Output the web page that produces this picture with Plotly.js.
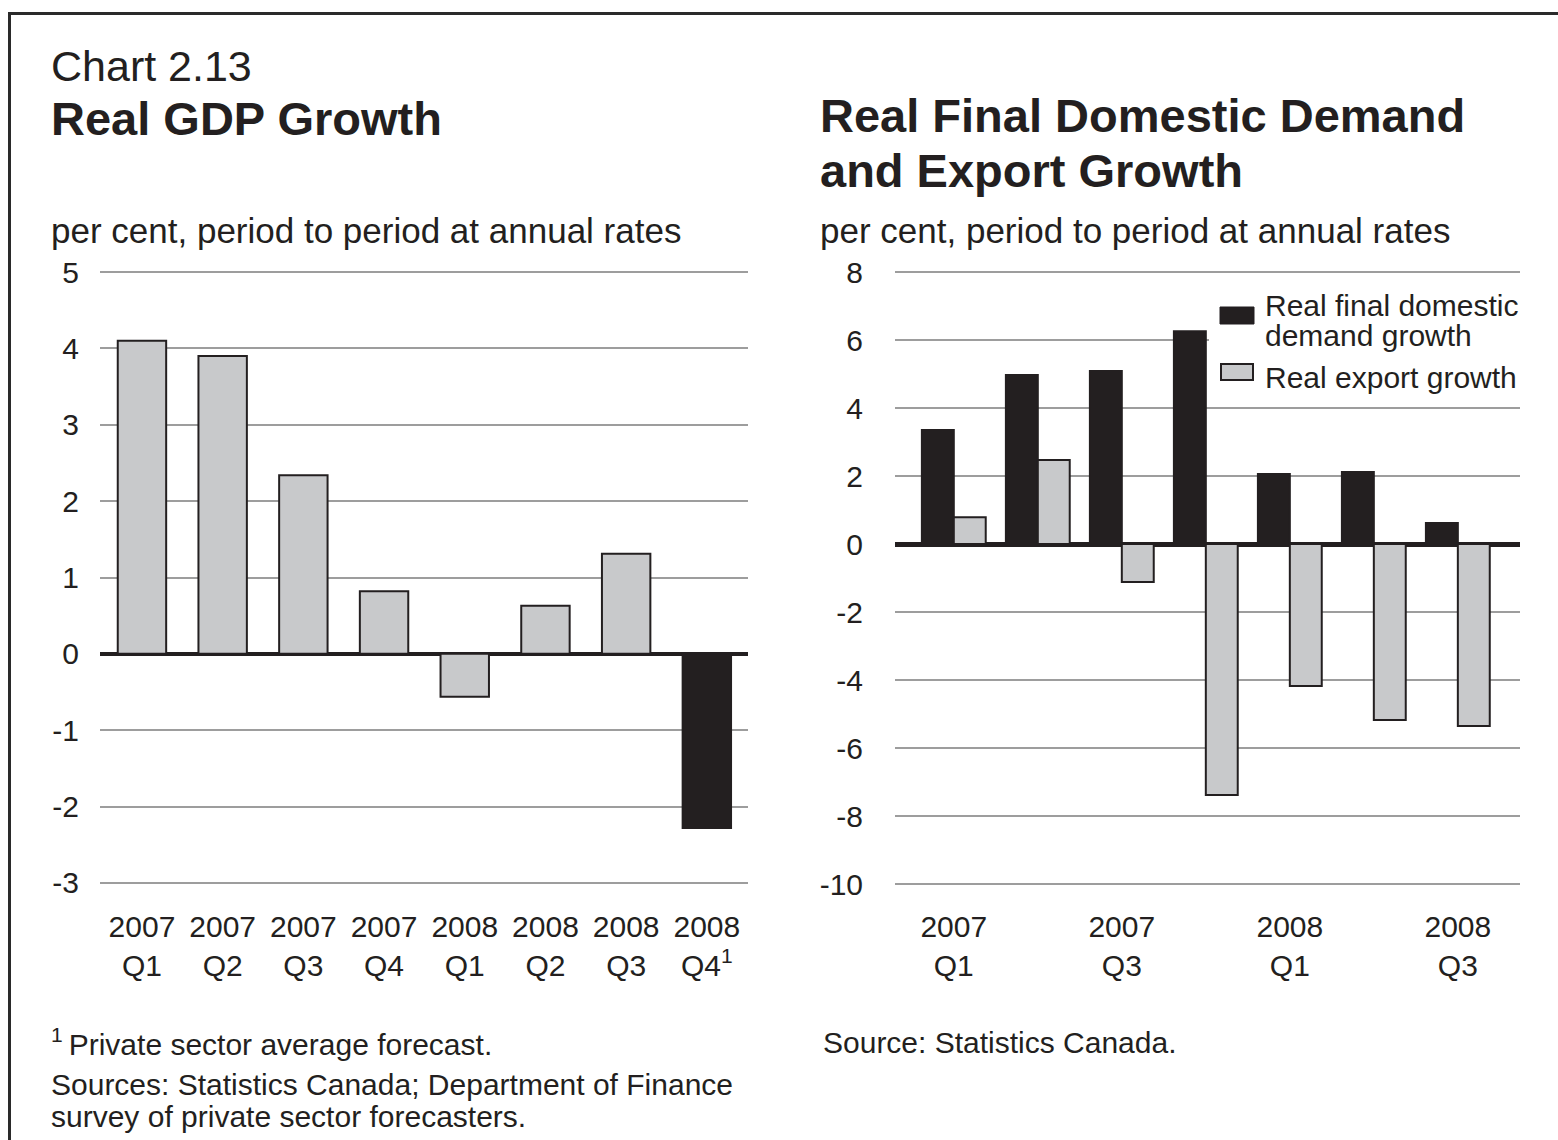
<!DOCTYPE html>
<html>
<head>
<meta charset="utf-8">
<script src="https://cdn.plot.ly/plotly-3.0.1.min.js"></script>
<style>
  html, body { margin: 0; padding: 0; background: #fff; }
  #wrap { position: relative; width: 1558px; height: 1140px; overflow: hidden; }
  #chart { position: absolute; left: 0; top: 0; width: 1558px; height: 1140px; }
  #frame { position: absolute; left: 8px; top: 12px; width: 1560px; height: 1140px;
           border-top: 3px solid #2a2a2a; border-left: 3px solid #2a2a2a; pointer-events: none; }
</style>
</head>
<body>
<div id="wrap"><div id="chart"></div><div id="frame"></div></div>
<script>
// ---- Data: left panel (Real GDP growth) ----
const gdpQuarters = ["2007 Q1","2007 Q2","2007 Q3","2007 Q4","2008 Q1","2008 Q2","2008 Q3","2008 Q4"];
const gdpTickText = ["2007<br>Q1","2007<br>Q2","2007<br>Q3","2007<br>Q4","2008<br>Q1","2008<br>Q2","2008<br>Q3","2008<br>Q4<sup>1</sup>"];
const gdpGrowth = [4.1, 3.9, 2.34, 0.82, -0.56, 0.63, 1.31, -2.28];
const gdpIsForecast = [false, false, false, false, false, false, false, true];

// ---- Data: right panel ----
const ddQuarters = ["2007 Q1","2007 Q2","2007 Q3","2007 Q4","2008 Q1","2008 Q2","2008 Q3"];
const ddTickVals = ["2007 Q1","2007 Q3","2008 Q1","2008 Q3"];
const ddTickText = ["2007<br>Q1","2007<br>Q3","2008<br>Q1","2008<br>Q3"];
const domesticDemand = [3.35, 4.97, 5.09, 6.26, 2.06, 2.12, 0.62];
const exportGrowth = [0.79, 2.47, -1.12, -7.38, -4.18, -5.18, -5.35];
const seriesNames = ["Real final domestic demand growth", "Real export growth"];

const leftYTicks = [-3,-2,-1,0,1,2,3,4,5];
const rightYTicks = [-10,-8,-6,-4,-2,0,2,4,6,8];

// ---- Styles ----
const W = 1558, H = 1140;
const FONT = "Liberation Sans, Arial, Helvetica, sans-serif";
const INK = "#231f20";
const GREY = "#c8c9cb";
const GRID = "#9d9d9d";
const px = v => v / W;
const py = v => 1 - v / H;
const hyph = v => String(v).replace("\u2212", "-");

const traces = [
  {
    type: "bar", x: gdpQuarters, y: gdpGrowth, xaxis: "x", yaxis: "y",
    marker: { color: gdpIsForecast.map(f => f ? INK : GREY), line: { color: INK, width: 2 } },
    width: 0.6, showlegend: false
  },
  {
    type: "bar", name: seriesNames[0], x: ddQuarters, y: domesticDemand,
    xaxis: "x2", yaxis: "y2", offsetgroup: "a", showlegend: false,
    marker: { color: INK, line: { color: INK, width: 2 } }
  },
  {
    type: "bar", name: seriesNames[1], x: ddQuarters, y: exportGrowth,
    xaxis: "x2", yaxis: "y2", offsetgroup: "b", showlegend: false,
    marker: { color: GREY, line: { color: INK, width: 2 } }
  }
];

const tickFont = { family: FONT, size: 30, color: INK };

function ann(text, x, y, size, bold) {
  return {
    text: bold ? "<b>" + text + "</b>" : text, xref: "paper", yref: "paper",
    x: px(x), y: py(y), xanchor: "left", yanchor: "middle", showarrow: false,
    align: "left", borderpad: 0,
    font: { family: FONT, size: size, color: INK }
  };
}

// legend key (drawn by hand to match the reference's large swatches), on a white panel
const legendShapes = [
  { type: "rect", xref: "paper", yref: "paper", x0: px(1209), x1: px(1524), y0: py(396), y1: py(290),
    fillcolor: "#ffffff", line: { width: 0 }, layer: "above" },
  { type: "rect", xref: "paper", yref: "paper", x0: px(1220), x1: px(1254), y0: py(324), y1: py(307),
    fillcolor: INK, line: { color: INK, width: 1 }, layer: "above" },
  { type: "rect", xref: "paper", yref: "paper", x0: px(1221), x1: px(1253), y0: py(380), y1: py(364),
    fillcolor: GREY, line: { color: INK, width: 2 }, layer: "above" }
];

const layout = {
  width: W, height: H,
  margin: { l: 0, r: 0, t: 0, b: 0 },
  paper_bgcolor: "#fff", plot_bgcolor: "#fff",
  barmode: "group", bargap: 0.24, bargroupgap: 0,
  font: { family: FONT, color: INK },
  showlegend: false,
  xaxis: {
    domain: [px(100), px(748)], type: "category", range: [-0.52, 7.51],
    tickvals: gdpQuarters, ticktext: gdpTickText, tickfont: tickFont,
    ticks: "outside", ticklen: 13, tickcolor: "rgba(0,0,0,0)",
    showgrid: false, showline: false, zeroline: false, fixedrange: true
  },
  yaxis: {
    domain: [py(886.8), py(268.2)], range: [-3.05, 5.05],
    tickvals: leftYTicks, ticktext: leftYTicks.map(hyph), tickfont: tickFont,
    ticks: "outside", ticklen: 14, tickcolor: "rgba(0,0,0,0)",
    showgrid: true, gridcolor: GRID, gridwidth: 2,
    zeroline: true, zerolinecolor: INK, zerolinewidth: 4,
    showline: false, fixedrange: true
  },
  xaxis2: {
    domain: [px(895), px(1520)], type: "category", range: [-0.7, 6.74],
    tickvals: ddTickVals, ticktext: ddTickText, tickfont: tickFont,
    ticks: "outside", ticklen: 13, tickcolor: "rgba(0,0,0,0)",
    showgrid: false, showline: false, zeroline: false, anchor: "y2", fixedrange: true
  },
  yaxis2: {
    domain: [py(887.4), py(268.6)], range: [-10.1, 8.1],
    tickvals: rightYTicks, ticktext: rightYTicks.map(hyph), tickfont: tickFont,
    ticks: "outside", ticklen: 25, tickcolor: "rgba(0,0,0,0)",
    showgrid: true, gridcolor: GRID, gridwidth: 2,
    zeroline: true, zerolinecolor: INK, zerolinewidth: 5,
    showline: false, anchor: "x2", fixedrange: true
  },
  shapes: legendShapes,
  annotations: [
    ann("Chart 2.13", 50, 66, 43, false),
    ann("Real GDP Growth", 50, 119, 47, true),
    ann("per cent, period to period at annual rates", 50, 231, 35, false),
    ann("Real Final Domestic Demand", 819, 116, 47, true),
    ann("and Export Growth", 819, 170, 47, true),
    ann("per cent, period to period at annual rates", 819, 231, 35, false),
    ann("Real final domestic", 1264, 305, 30, false),
    ann("demand growth", 1264, 335, 30, false),
    ann(seriesNames[1], 1264, 377, 30, false),
    ann("<sup>1</sup>\u2009Private sector average forecast.", 50, 1042, 30, false),
    ann("Sources: Statistics Canada; Department of Finance", 50, 1084, 30, false),
    ann("survey of private sector forecasters.", 50, 1116, 30, false),
    ann("Source: Statistics Canada.", 822, 1042, 30, false)
  ]
};

Plotly.newPlot("chart", traces, layout, { staticPlot: true, displayModeBar: false });
</script>
</body>
</html>
